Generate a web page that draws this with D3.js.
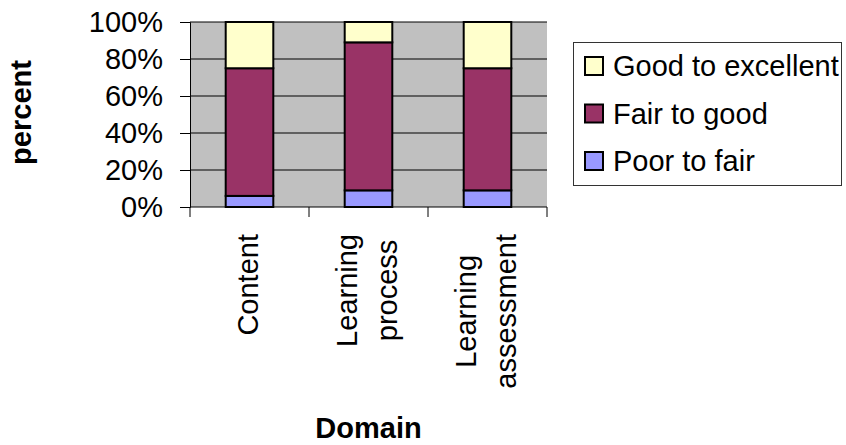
<!DOCTYPE html>
<html>
<head>
<meta charset="utf-8">
<script src="https://cdn.jsdelivr.net/npm/d3@7"></script>
<style>
  body { margin: 0; background: #fff; }
  svg { display: block; font-family: "Liberation Sans", Arial, sans-serif; }
</style>
</head>
<body>
<div id="chart"></div>
<script>
// data (percent of responses)
const categories = ["Content", "Learning process", "Learning assessment"];
const categoryLines = [["Content"], ["Learning", "process"], ["Learning", "assessment"]];
const poorToFair = [6, 9, 9];
const fairToGood = [69, 80, 66];
const goodToExcellent = [25, 11, 25];
const seriesKeys = ["Poor to fair", "Fair to good", "Good to excellent"];
const yTicks = [0, 20, 40, 60, 80, 100];

const colors = {
  "Poor to fair": "#9999FF",
  "Fair to good": "#993366",
  "Good to excellent": "#FFFFCC"
};

const width = 846, height = 445;
const margin = { top: 22, right: 299, bottom: 238, left: 190 };
const fontSize = 29;

const rows = categories.map((c, i) => ({
  cat: c,
  "Poor to fair": poorToFair[i],
  "Fair to good": fairToGood[i],
  "Good to excellent": goodToExcellent[i]
}));

const svg = d3.select("#chart").append("svg")
  .attr("width", width)
  .attr("height", height);

const x = d3.scaleBand()
  .domain(categories)
  .range([margin.left, width - margin.right])
  .paddingInner(0.6)
  .paddingOuter(0.3);

const y = d3.scaleLinear()
  .domain([0, 100])
  .range([height - margin.bottom, margin.top]);

// plot area
svg.append("rect")
  .attr("x", margin.left)
  .attr("y", margin.top)
  .attr("width", width - margin.right - margin.left)
  .attr("height", y(0) - y(100))
  .attr("fill", "#C0C0C0");

// gridlines
svg.append("g")
  .selectAll("line")
  .data(yTicks.slice(1))
  .join("line")
  .attr("x1", margin.left)
  .attr("x2", width - margin.right)
  .attr("y1", d => y(d))
  .attr("y2", d => y(d))
  .attr("stroke", "#000")
  .attr("stroke-width", 1);

// stacked bars
const layers = d3.stack().keys(seriesKeys)(rows);
svg.append("g")
  .selectAll("g")
  .data(layers)
  .join("g")
  .attr("fill", d => colors[d.key])
  .selectAll("rect")
  .data(d => d)
  .join("rect")
  .attr("x", d => x(d.data.cat))
  .attr("width", x.bandwidth())
  .attr("y", d => y(d[1]))
  .attr("height", d => y(d[0]) - y(d[1]))
  .attr("stroke", "#000")
  .attr("stroke-width", 2);

// y axis
const yAxis = svg.append("g")
  .attr("transform", `translate(${margin.left},0)`)
  .call(d3.axisLeft(y).tickValues(yTicks).tickSize(10).tickPadding(17).tickFormat(d => d + "%"));
yAxis.select(".domain").attr("stroke", "#000");
yAxis.selectAll("text")
  .attr("font-size", fontSize)
  .attr("font-family", "Liberation Sans, Arial, sans-serif")
  .attr("fill", "#000");

// x axis: ticks at category boundaries
const xBounds = [0, 1, 2, 3].map(i => margin.left + i * x.step());
svg.append("line")
  .attr("x1", margin.left).attr("x2", width - margin.right)
  .attr("y1", y(0)).attr("y2", y(0))
  .attr("stroke", "#000");
svg.append("g")
  .selectAll("line")
  .data(xBounds)
  .join("line")
  .attr("x1", d => d).attr("x2", d => d)
  .attr("y1", y(0)).attr("y2", y(0) + 10)
  .attr("stroke", "#000");

// rotated category labels
const labelTop = y(0) + 27;
const lineGap = 40;
categoryLines.forEach((lines, i) => {
  const cx = x(categories[i]) + x.bandwidth() / 2;
  const g = svg.append("g")
    .attr("transform", `translate(${cx},${labelTop}) rotate(-90)`);
  const texts = g.selectAll("text")
    .data(lines)
    .join("text")
    .attr("font-size", fontSize)
    .attr("text-anchor", "middle")
    .attr("y", (d, j) => 8 + (j - (lines.length - 1) / 2) * lineGap)
    .text(d => d);
  const maxW = d3.max(texts.nodes(), n => n.getComputedTextLength());
  texts.attr("x", -maxW / 2);
});

// axis titles
svg.append("text")
  .attr("transform", `translate(31,${(y(0) + y(100)) / 2 - 2}) rotate(-90)`)
  .attr("text-anchor", "middle")
  .attr("font-size", fontSize)
  .attr("font-weight", "bold")
  .text("percent");

svg.append("text")
  .attr("x", (margin.left + width - margin.right) / 2)
  .attr("y", 438)
  .attr("text-anchor", "middle")
  .attr("font-size", fontSize)
  .attr("font-weight", "bold")
  .text("Domain");

// legend
const legend = svg.append("g");
legend.append("rect")
  .attr("x", 573.5).attr("y", 42.5)
  .attr("width", 268).attr("height", 143)
  .attr("fill", "#fff")
  .attr("stroke", "#333");

const legendOrder = seriesKeys.slice().reverse();
const legendRow = legend.selectAll("g")
  .data(legendOrder)
  .join("g")
  .attr("transform", (d, i) => `translate(585,${66 + i * 47.5})`);
legendRow.append("rect")
  .attr("x", 0).attr("y", -9)
  .attr("width", 18).attr("height", 18)
  .attr("fill", d => colors[d])
  .attr("stroke", "#000")
  .attr("stroke-width", 2);
legendRow.append("text")
  .attr("x", 28).attr("y", 10)
  .attr("font-size", fontSize)
  .text(d => d);
</script>
</body>
</html>
